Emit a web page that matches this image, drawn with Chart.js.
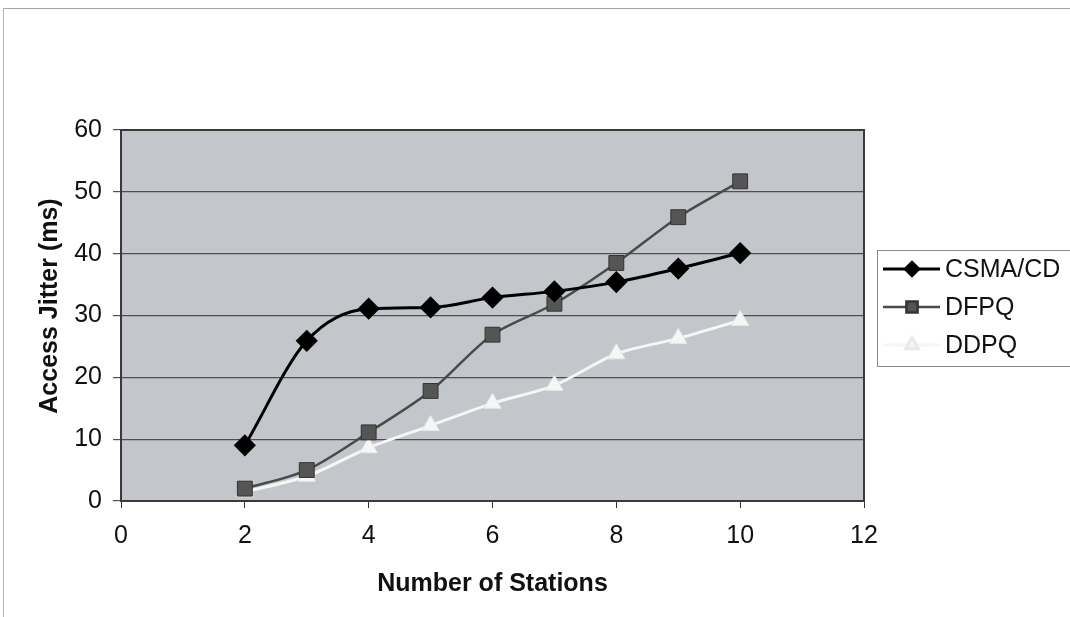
<!DOCTYPE html>
<html lang="en">
<head>
	<meta charset="UTF-8"/>
	<title>Access Jitter</title>
	<script src="https://cdn.jsdelivr.net/npm/chart.js"></script>
	<style>
		body {
			margin: 0;
			background: #fff;
		}
		.wrap {
			position: relative;
			width: 1070px;
			height: 617px;
			overflow: hidden;
		}
		.frame {
			position: absolute;
			left: 3px;
			top: 8px;
			right: -4px;
			bottom: -4px;
			border-top: 1px solid #a6a6a6;
			border-left: 1px solid #b4b4b4;
		}
		canvas {
			position: absolute;
			left: 0;
			top: 0;
		}
	</style>
</head>
<body>
<div class="wrap">
	<div class="frame"></div>
	<canvas id="jitterChart" width="1070" height="617"></canvas>
</div>

<script>
	const stations = [2, 3, 4, 5, 6, 7, 8, 9, 10];
	const csmaCd = [9.0, 25.9, 31.1, 31.3, 32.9, 33.9, 35.4, 37.6, 40.1];
	const dfpq = [2.0, 5.0, 11.1, 17.8, 26.9, 31.9, 38.5, 45.9, 51.7];
	const ddpq = [1.5, 4.0, 8.6, 12.2, 15.8, 18.7, 23.8, 26.3, 29.2];

	const yTitle = "Access Jitter (ms)";
	const xTitle = "Number of Stations";

	const toPoints = values => stations.map((s, i) => ({ x: s, y: values[i] }));

	const FONT = "'Liberation Sans', Arial, sans-serif";
	Chart.defaults.font.family = FONT;
	Chart.defaults.color = "#111";

	// grey plot background with a frame around it
	const plotArea = {
		id: "plotArea",
		beforeDraw(chart) {
			const { ctx, chartArea: a } = chart;
			ctx.save();
			ctx.fillStyle = "#c3c6ca";
			ctx.fillRect(a.left, a.top, a.right - a.left, a.bottom - a.top);
			ctx.restore();
		},
		beforeDatasetsDraw(chart) {
			const { ctx, chartArea: a } = chart;
			ctx.save();
			ctx.strokeStyle = "#3a3a3a";
			ctx.lineWidth = 2;
			ctx.strokeRect(a.left, a.top, a.right - a.left, a.bottom - a.top);
			ctx.restore();
		}
	};

	// vertical axis title, sitting a little above the plot's middle
	const sideTitle = {
		id: "sideTitle",
		afterDraw(chart) {
			const ctx = chart.ctx;
			ctx.save();
			ctx.translate(50, 306);
			ctx.rotate(-Math.PI / 2);
			ctx.fillStyle = "#111";
			ctx.font = "bold 25px " + FONT;
			ctx.textAlign = "center";
			ctx.textBaseline = "middle";
			ctx.fillText(yTitle, 0, 0);
			ctx.restore();
		}
	};

	// boxed legend to the right of the plot
	const sideLegend = {
		id: "sideLegend",
		afterDraw(chart) {
			const ctx = chart.ctx;
			ctx.save();
			ctx.fillStyle = "#fff";
			ctx.strokeStyle = "#8a8a8a";
			ctx.lineWidth = 1;
			ctx.fillRect(877.5, 250.5, 220, 116);
			ctx.strokeRect(877.5, 250.5, 220, 116);

			chart.data.datasets.forEach((ds, i) => {
				const y = 269 + i * 38;
				ctx.strokeStyle = ds.borderColor;
				ctx.lineWidth = ds.borderWidth;
				ctx.beginPath();
				ctx.moveTo(883, y);
				ctx.lineTo(940, y);
				ctx.stroke();

				ctx.fillStyle = ds.pointBackgroundColor;
				ctx.strokeStyle = ds.pointBorderColor;
				Chart.helpers.drawPoint(ctx, {
					pointStyle: ds.pointStyle,
					radius: ds.pointRadius * 0.75,
					rotation: 0,
					borderWidth: 1
				}, 912, y);

				ctx.fillStyle = "#111";
				ctx.font = "25px " + FONT;
				ctx.textBaseline = "middle";
				ctx.fillText(ds.label, 945, y + 1);
			});
			ctx.restore();
		}
	};

	new Chart(document.getElementById("jitterChart"), {
		type: "line",
		data: {
			datasets: [
				{
					label: "CSMA/CD",
					data: toPoints(csmaCd),
					borderColor: "#000",
					borderWidth: 3,
					pointStyle: "rectRot",
					pointRadius: 9,
					pointBackgroundColor: "#000",
					pointBorderColor: "#000",
					cubicInterpolationMode: "monotone"
				},
				{
					label: "DFPQ",
					data: toPoints(dfpq),
					borderColor: "#4a4a4a",
					borderWidth: 2.5,
					pointStyle: "rect",
					pointRadius: 10.5,
					pointBackgroundColor: "#555",
					pointBorderColor: "#333",
					pointBorderWidth: 1,
					tension: 0.3
				},
				{
					label: "DDPQ",
					data: toPoints(ddpq),
					borderColor: "#f6f6f6",
					borderWidth: 3,
					pointStyle: "triangle",
					pointRadius: 10,
					pointBackgroundColor: "#f6f6f6",
					pointBorderColor: "#e8e8e8",
					pointBorderWidth: 1,
					tension: 0.3
				}
			]
		},
		options: {
			responsive: false,
			animation: false,
			devicePixelRatio: 1,
			layout: { padding: { top: 130, right: 206, left: 0, bottom: 0 } },
			plugins: {
				legend: { display: false },
				tooltip: { enabled: false }
			},
			scales: {
				x: {
					type: "linear",
					min: 0,
					max: 12,
					afterFit: s => { s.height = 116; },
					ticks: { stepSize: 2, font: { size: 25 }, padding: 13, color: "#111" },
					grid: { drawOnChartArea: false, drawTicks: true, tickLength: 7, color: "#333" },
					border: { display: true, color: "#222", width: 2 },
					title: {
						display: true,
						text: xTitle,
						font: { size: 25, weight: "bold" },
						padding: { top: 0, bottom: 18 },
						color: "#111"
					}
				},
				y: {
					min: 0,
					max: 60,
					afterFit: s => { s.width = 121; },
					ticks: { stepSize: 10, font: { size: 25 }, padding: 11, color: "#111" },
					grid: { color: "#4f4f4f", lineWidth: 1.2, tickLength: 8 },
					border: { display: true, color: "#222", width: 2 },
					title: { display: false }
				}
			}
		},
		plugins: [plotArea, sideTitle, sideLegend]
	});
</script>
</body>
</html>
